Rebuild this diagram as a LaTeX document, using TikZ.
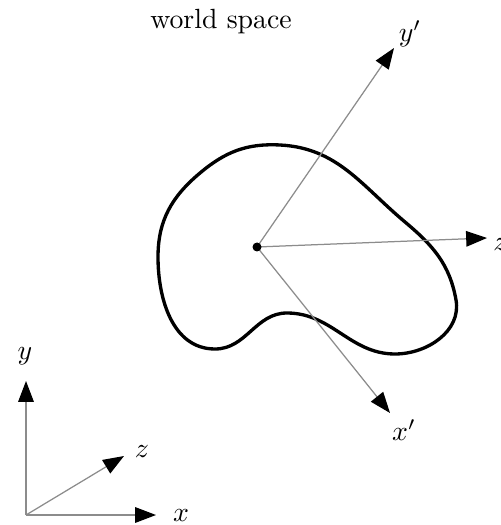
\documentclass[tikz,border=0pt]{standalone}
\usetikzlibrary{arrows.meta,positioning,calc}
\definecolor{axisgray}{HTML}{8C8C8C}

\begin{document}
\begin{tikzpicture}[
  x=0.36pt,y=-0.36pt,
  >={Triangle[length=7.5pt,width=5.6pt,color=black]},
  axis/.style={->,line width=0.45pt,draw=axisgray},
  blob/.style={line width=1.2pt,draw=black},
  lbl/.style={inner sep=1pt},
  every node/.style={font=\normalsize}
]
\useasboundingbox (0,0) rectangle (500,525);
\node (title) at (221,22) {world space};

% object and its local frame
\draw[blob] (280,145) to[out=-3,in=140] (405,222)
  to[out=-40,in=100] (456,300)
  to[out=-80,in=0] (395,354)
  to[out=180,in=0] (287,313)
  to[out=180,in=0] (215,349)
  to[out=180,in=270] (158,257)
  to[out=90,in=220] (200,173)
  to[out=40,in=177] cycle;
\coordinate (o) at (257,247);
\coordinate (yptip) at (394,48);
\coordinate (zptip) at (487,238);
\coordinate (xptip) at (390,413);
\node[lbl] (yp) at (410,34) {$y'$};
\node[lbl,anchor=west] (zp) at (490,240) {$z'$};
\node[lbl] (xp) at (404,430) {$x'$};
\draw[axis] (o) -- (yptip);
\draw[axis] (o) -- (zptip);
\draw[axis] (o) -- (xptip);
\fill (o) circle[radius=4.5];

% world frame
\coordinate (w) at (26,515);
\coordinate (xtip) at (156,515);
\coordinate (ytip) at (26,381);
\coordinate (ztip) at (124,456);
\node[lbl] (x) at (181,516) {$x$};
\node[lbl] (y) at (25,356) {$y$};
\node[lbl] (z) at (142,452) {$z$};
\draw[axis] (w) -- (xtip);
\draw[axis] (w) -- (ytip);
\draw[axis] (w) -- (ztip);
\end{tikzpicture}
\end{document}
